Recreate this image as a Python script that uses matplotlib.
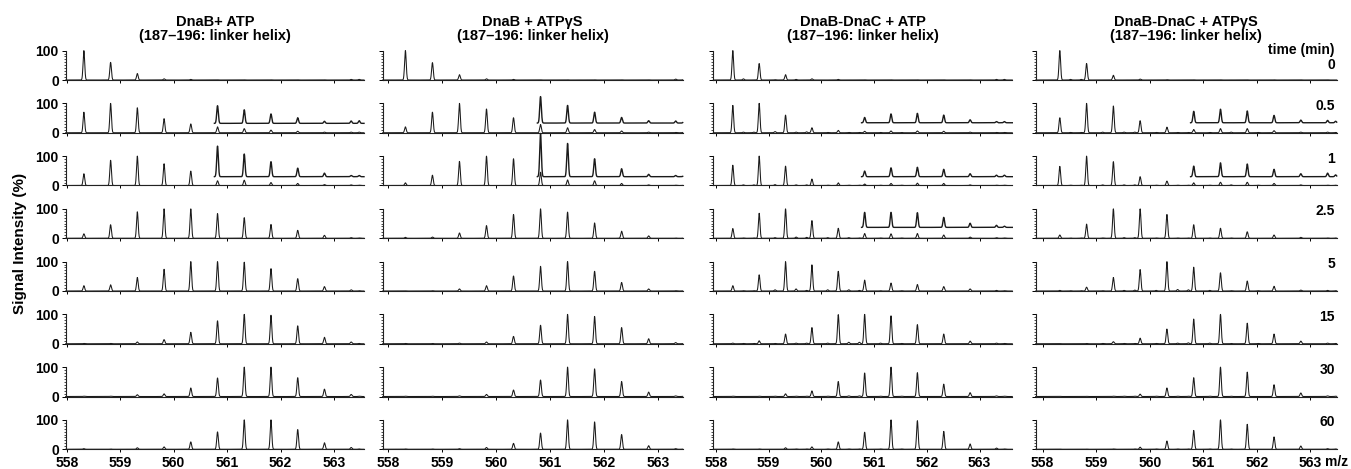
import numpy as np
import matplotlib
matplotlib.use("Agg")
import matplotlib.pyplot as plt
from matplotlib.ticker import MultipleLocator

plt.rcParams['font.family'] = ['Liberation Sans', 'DejaVu Sans']
plt.rcParams['font.weight'] = 'bold'

# ---------------- data ----------------
TITLES = ["DnaB+ ATP\n(187\u2013196: linker helix)",
          "DnaB + ATP\u03b3S\n(187\u2013196: linker helix)",
          "DnaB-DnaC + ATP\n(187\u2013196: linker helix)",
          "DnaB-DnaC + ATP\u03b3S\n(187\u2013196: linker helix)"]
TIMES = ["0", "0.5", "1", "2.5", "5", "15", "30", "60"]
XTICKS = [558, 559, 560, 561, 562, 563]

MAIN_MZ = [558.32, 558.82, 559.32, 559.82, 560.32, 560.82, 561.32, 561.82, 562.32, 562.82, 563.32]

DNAB_ATP = [
    [100, 60, 22, 4, 2, 0.5, 0.5, 0.5, 0.5, 0.5, 2],
    [70, 100, 85, 48, 30, 20, 14, 9, 5, 2, 2],
    [40, 86, 100, 74, 49, 16, 18, 10, 7, 3, 2],
    [15, 46, 90, 100, 100, 84, 70, 47, 27, 10, 2],
    [18, 21, 46, 74, 100, 100, 98, 76, 42, 15, 4],
    [1, 1, 6, 14, 39, 78, 100, 97, 61, 22, 6],
    [1, 1, 6, 9, 29, 63, 100, 100, 64, 25, 7],
    [2, 1, 5, 8, 25, 59, 100, 100, 67, 22, 6],
]
DNAB_ATPGS = [
    [100, 59, 18, 4, 2, 0.5, 0.5, 0.5, 0.5, 0.5, 3],
    [20, 70, 100, 81, 51, 28, 17, 11, 6, 2, 1],
    [9, 35, 82, 100, 91, 45, 19, 16, 7, 2, 1],
    [3, 4, 18, 43, 81, 100, 89, 52, 24, 8, 1],
    [0.5, 1, 7, 18, 51, 84, 100, 67, 29, 7, 1],
    [1, 1, 2, 6, 25, 63, 100, 93, 55, 17, 4],
    [1, 1, 2, 7, 22, 56, 100, 94, 51, 15, 2],
    [1, 1, 2, 6, 20, 55, 100, 93, 50, 12, 2],
]
DNABC_ATP = [
    [100, 56, 18, 4, 2, 0.5, 0.5, 0.5, 0.5, 0.5, 2],
    [93, 100, 60, 17, 8, 5, 6, 6, 5, 2, 1],
    [69, 100, 66, 22, 9, 5, 7, 8, 7, 2, 1],
    [33, 85, 100, 60, 34, 16, 15, 16, 11, 4, 2],
    [18, 55, 100, 89, 67, 37, 27, 22, 15, 7, 2],
    [2, 10, 33, 55, 99, 100, 95, 65, 33, 9, 2],
    [1, 1, 9, 19, 51, 80, 100, 81, 42, 13, 2],
    [1, 1, 5, 8, 25, 58, 100, 97, 61, 18, 4],
]
DNABC_ATPGS = [
    [100, 56, 16, 3, 1, 0.5, 0.5, 0.5, 0.5, 0.5, 0.5],
    [51, 100, 91, 41, 19, 11, 14, 14, 7, 2, 2],
    [65, 100, 81, 30, 15, 9, 11, 11, 7, 2, 1],
    [11, 48, 100, 100, 81, 46, 34, 22, 11, 3, 1],
    [2, 13, 46, 73, 100, 81, 62, 34, 16, 3, 2],
    [0.5, 1, 7, 19, 50, 84, 100, 70, 33, 9, 2],
    [0.5, 0.5, 1, 8, 29, 64, 100, 83, 40, 12, 2],
    [0.5, 0.5, 1, 7, 28, 64, 100, 85, 42, 11, 2],
]
MAIN = [DNAB_ATP, DNAB_ATPGS, DNABC_ATP, DNABC_ATPGS]

MINOR_MZ = [558.52, 558.72, 559.12, 559.52, 559.72, 560.12, 560.52, 560.72, 561.12, 561.52, 562.02, 563.47]
MINOR_DNAB_ATP = [[0, 0, 0, 0, 0, 0, 0, 0, 0, 0, 0, 2]] * 2 + [[0] * 11 + [1]] * 6
MINOR_DNAB_ATPGS = [[0, 0, 0, 0, 0, 0, 0, 0, 0, 0, 0, 2]] * 2 + [[0] * 11 + [1]] * 6
MINOR_DNABC_ATP = [
    [4, 0, 1, 2, 0, 0, 0, 0, 0, 0, 0, 2],
    [2, 2, 4, 2, 3, 1, 1, 1, 1, 1, 0, 1],
    [2, 2, 3, 2, 2, 1, 1, 1, 1, 1, 0, 1],
    [1, 1, 2, 4, 3, 2, 2, 1, 1, 1, 0, 1],
    [1, 1, 4, 7, 2, 4, 4, 2, 1, 1, 0, 1],
    [1, 1, 1, 2, 2, 2, 5, 5, 2, 1, 0, 1],
    [0, 0, 1, 1, 1, 1, 2, 2, 1, 1, 0, 1],
    [0, 0, 0, 1, 1, 1, 1, 1, 1, 1, 0, 1],
]
MINOR_DNABC_ATPGS = [
    [2, 2, 0, 0, 0, 0, 0, 0, 0, 0, 0, 0],
    [1, 1, 2, 2, 2, 1, 1, 1, 1, 2, 1, 1],
    [1, 1, 2, 2, 2, 1, 1, 1, 1, 2, 1, 1],
    [1, 1, 1, 2, 2, 1, 1, 1, 1, 1, 0, 1],
    [1, 1, 1, 2, 3, 2, 5, 4, 2, 1, 1, 1],
    [0, 0, 1, 1, 1, 1, 2, 3, 2, 1, 1, 1],
    [0, 0, 0, 1, 1, 1, 1, 1, 1, 1, 0, 1],
    [0, 0, 0, 0, 1, 1, 1, 1, 1, 1, 0, 1],
]
MINOR = [MINOR_DNAB_ATP, MINOR_DNAB_ATPGS, MINOR_DNABC_ATP, MINOR_DNABC_ATPGS]

# magnified insets (panel column, time row) -> offset baseline, peak heights above it
INSET_START = 560.76
INSET_MZ = [560.82, 561.32, 561.82, 562.32, 562.82, 563.32, 563.47]
INSET_BASE = {(0, 1): 32, (0, 2): 30, (1, 1): 33, (1, 2): 30,
              (2, 1): 34, (2, 2): 30, (2, 3): 37, (3, 1): 34, (3, 2): 30}
INSET_PEAKS = {
    (0, 1): [60, 46, 32, 19, 7, 8, 9],
    (0, 2): [104, 77, 51, 29, 12, 4, 4],
    (1, 1): [90, 60, 37, 19, 8, 7, 4],
    (1, 2): [147, 113, 61, 27, 8, 4, 3],
    (2, 1): [18, 30, 32, 26, 10, 4, 4],
    (2, 2): [19, 30, 32, 25, 10, 5, 5],
    (2, 3): [51, 51, 50, 34, 14, 7, 4],
    (3, 1): [39, 46, 40, 25, 9, 8, 5],
    (3, 2): [36, 47, 43, 25, 10, 12, 6],
}

# ---------------- layout ----------------
W, H = 1351, 469
COL_LEFT = [65.7, 382.7, 713.3, 1035.7]
COL_RIGHT = [364.0, 682.7, 1012.3, 1336.7]
XLIMS = [(557.98, 563.56), (557.90, 563.45), (557.95, 563.62), (557.87, 563.49)]
ROW_BOTTOM0 = 80.0
ROW_STEP = 52.75
ROW_H = 29.4
SIGMA = 0.015

fig = plt.figure(figsize=(W / 100, H / 100), dpi=100)


def profile(x, mzs, heights):
    y = np.zeros_like(x)
    for m, h in zip(mzs, heights):
        y += h * np.exp(-0.5 * ((x - m) / SIGMA) ** 2)
    return y


for c in range(4):
    for r in range(8):
        bot = ROW_BOTTOM0 + ROW_STEP * r
        l, rr = COL_LEFT[c], COL_RIGHT[c]
        ax = fig.add_axes([l / W, 1 - bot / H, (rr - l) / W, ROW_H / H])
        x0, x1 = XLIMS[c]
        ax.set_xlim(x0, x1)
        ax.set_ylim(0, 100)
        x = np.linspace(x0, x1, 3000)
        y = profile(x, MAIN_MZ, MAIN[c][r]) + profile(x, MINOR_MZ, MINOR[c][r])
        ax.plot(x, y, color='#1a1a1a', lw=0.75, clip_on=False)
        if (c, r) in INSET_PEAKS:
            m = x >= INSET_START
            yi = INSET_BASE[(c, r)] + profile(x[m], INSET_MZ, INSET_PEAKS[(c, r)])
            ax.plot(x[m], yi, color='#1a1a1a', lw=1.0, clip_on=False)
        for s in ('top', 'right'):
            ax.spines[s].set_visible(False)
        for s in ('left', 'bottom'):
            ax.spines[s].set_linewidth(0.8)
            ax.spines[s].set_color('#222222')
        ax.set_yticks([0, 100])
        ax.yaxis.set_minor_locator(MultipleLocator(10))
        ax.set_xticks(XTICKS)
        ax.tick_params(axis='y', which='major', length=3, width=0.7, direction='out',
                       pad=2, labelsize=10, labelleft=(c == 0))
        ax.tick_params(axis='y', which='minor', length=1.5, width=0.5, direction='out')
        ax.tick_params(axis='x', which='major', length=2.5, width=0.7, direction='out',
                       pad=2, labelsize=10, labelbottom=(r == 7))
        ax.patch.set_alpha(0)

    cx = (COL_LEFT[c] + COL_RIGHT[c]) / 2
    fig.text(cx / W, 1 - 29 / H, TITLES[c], ha='center', va='center', fontsize=10.5,
             fontweight='bold', linespacing=0.95)

# time labels
fig.text(1335 / W, 1 - 50 / H, "time (min)", ha='right', va='center', fontsize=10)
for r, t in enumerate(TIMES):
    yc = (ROW_BOTTOM0 + ROW_STEP * r) - (15 if r == 0 else 27)
    fig.text(1335 / W, 1 - yc / H, t, ha='right', va='center', fontsize=10)

fig.text(1325 / W, 1 - 462 / H, "m/z", ha='left', va='center', fontsize=10)
fig.text(20 / W, 1 - 243 / H, "Signal Intensity (%)", ha='center', va='center',
         rotation=90, fontsize=11)

fig.savefig("out.png", dpi=100)
